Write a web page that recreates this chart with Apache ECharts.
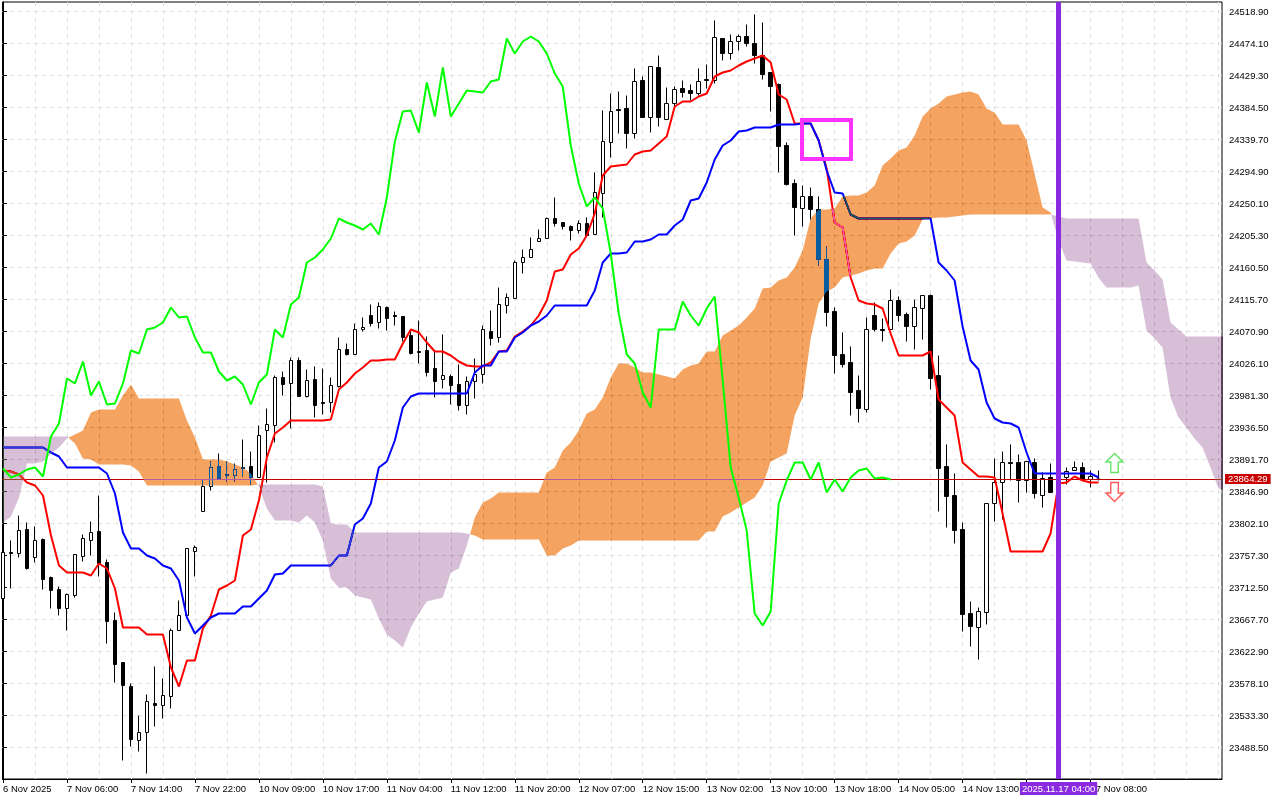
<!DOCTYPE html>
<html><head><meta charset="utf-8">
<style>html,body{margin:0;padding:0;background:#fff}#c{width:1280px;height:800px}</style>
<script src="https://cdn.jsdelivr.net/npm/echarts@6/dist/echarts.min.js"></script>
</head><body><div id="c"></div>
<script>
const opens=[23697.1,23761.5,23760.1,23793.7,23754.5,23779.7,23726.5,23709.7,23683.1,23701.3,
23755.9,23778.3,23790.9,23747.5,23666.3,23607.5,23573.9,23498.3,23509.5,23550.1,
23547.3,23559.9,23652.3,23673.3,23762.9,23818.9,23853.9,23881.9,23870.7,23869.3,
23880.5,23881.9,23866.5,23932.3,23939.3,24006.5,23998.1,24030.3,23979.9,24003.7,
23971.5,23971.5,23993.9,24045.7,24038.7,24073.7,24093.3,24083.5,24104.5,24093.3,
24091.9,24065.3,24042.9,24044.3,24019.1,24003.7,24007.9,23996.7,23967.3,24000.9,
24010.7,24070.9,24062.5,24107.3,24117.1,24167.5,24174.5,24196.9,24201.1,24229.1,
24223.5,24217.9,24212.3,24222.1,24206.7,24264.1,24335.5,24381.7,24383.1,24348.1,
24422.3,24370.5,24440.5,24367.7,24390.1,24411.1,24408.3,24404.1,24423.7,24422.3,
24481.1,24460.1,24476.9,24483.9,24474.1,24457.3,24433.5,24416.7,24331.3,24278.1,
24243.1,24259.9,24241.7,24171.7,24098.9,24038.7,24027.5,23988.3,23961.7,24093.3,
24073.7,24073.7,24114.3,24094.7,24077.9,24103.1,24121.3,24009.3,23881.9,23841.3,
23793.7,23676.1,23656.5,23677.5,23830.1,23859.5,23887.5,23887.5,23862.3,23887.5,
23841.3,23866.5,23860.9,23866.5,23876.3,23880.5,23863.7,23863.7];
const closes=[23761.5,23760.1,23792.3,23739.1,23778.3,23723.7,23708.3,23683.1,23702.7,23758.7,
23781.1,23789.5,23746.1,23664.9,23604.7,23575.3,23499.7,23509.5,23552.9,23547.3,
23561.3,23652.3,23673.3,23767.1,23768.5,23853.9,23880.5,23865.1,23869.3,23877.7,
23879.1,23866.5,23925.3,23940.7,24006.5,23996.7,24030.3,23979.9,24002.3,23967.3,
23970.1,23995.3,24045.7,24038.7,24073.7,24076.5,24082.1,24105.9,24089.1,24091.9,
24062.5,24040.1,24041.5,24013.5,24000.9,24009.3,23995.3,23967.3,24000.9,24010.7,
24073.7,24061.1,24108.7,24118.5,24167.5,24174.5,24185.7,24201.1,24229.1,24222.1,
24217.9,24212.3,24222.1,24205.3,24265.5,24336.9,24378.9,24380.3,24348.1,24420.9,
24370.5,24441.9,24370.5,24390.1,24409.7,24405.5,24404.1,24420.9,24422.3,24482.5,
24460.1,24476.9,24483.9,24474.1,24457.3,24430.7,24413.9,24329.9,24276.7,24244.5,
24259.9,24241.7,24171.7,24097.5,24037.3,24024.7,23985.5,23963.1,24073.7,24073.7,
24072.3,24114.3,24093.3,24077.9,24104.5,24121.3,24005.1,23879.1,23839.9,23792.3,
23674.7,23657.9,23678.9,23830.1,23859.5,23887.5,23886.1,23862.3,23888.9,23844.1,
23865.1,23845.5,23872.1,23874.9,23880.5,23863.7,23867.9,23864.29];
const highs=[23761.5,23778.3,23813.3,23803.5,23797.9,23781.1,23727.9,23713.9,23704.1,23758.7,
23786.7,23804.9,23841.3,23751.7,23677.5,23607.5,23578.1,23533.3,23562.7,23601.9,
23585.1,23655.1,23694.3,23767.1,23771.3,23863.7,23888.9,23900.1,23888.9,23886.1,
23919.7,23902.9,23939.3,23963.1,24009.3,24014.9,24034.5,24034.5,24017.7,24021.9,
24019.1,24006.5,24062.5,24054.1,24082.1,24090.5,24108.7,24111.5,24105.9,24098.9,
24091.9,24072.3,24086.3,24063.9,24042.9,24066.7,24010.7,24024.7,24007.9,24033.1,
24079.3,24100.3,24132.5,24124.1,24170.3,24185.7,24202.5,24213.7,24230.5,24258.5,
24223.5,24219.3,24226.3,24230.5,24293.5,24380.3,24404.1,24406.9,24401.3,24439.1,
24427.9,24441.9,24457.3,24412.5,24413.9,24422.3,24416.7,24439.1,24444.7,24506.3,
24481.1,24486.7,24486.7,24500.7,24514.7,24503.5,24433.5,24418.1,24335.5,24283.7,
24275.3,24272.5,24259.9,24189.9,24104.5,24069.5,24049.9,24009.3,24090.5,24111.5,
24089.1,24129.7,24119.9,24097.5,24115.7,24121.3,24122.7,24037.3,23912.7,23872.1,
23803.5,23692.9,23684.5,23830.1,23893.1,23902.9,23912.7,23898.7,23888.9,23893.1,
23873.5,23886.1,23877.7,23880.5,23888.9,23887.5,23876.3,23876.3];
const lows=[23697.1,23711.1,23754.5,23737.7,23747.5,23709.7,23683.1,23673.3,23652.3,23698.5,
23748.9,23757.3,23727.9,23634.1,23579.5,23470.3,23489.9,23482.9,23452.1,23517.9,
23529.1,23543.1,23652.3,23670.5,23727.9,23818.9,23848.3,23865.1,23860.9,23860.9,
23867.9,23856.7,23866.5,23859.5,23915.5,23981.3,23935.1,23979.9,23978.5,23950.5,
23954.7,23957.5,23992.5,24037.3,24038.7,24070.9,24077.9,24075.1,24072.3,24079.3,
24056.9,24038.7,24026.1,24007.9,23978.5,23991.1,23968.7,23960.3,23954.7,23977.1,
23998.1,24051.3,24055.5,24096.1,24117.1,24152.1,24174.5,24196.9,24201.1,24217.9,
24213.7,24198.3,24208.1,24205.3,24206.7,24230.5,24314.5,24348.1,24327.1,24341.1,
24370.5,24349.5,24357.9,24367.7,24384.5,24398.5,24394.3,24401.3,24411.1,24418.1,
24450.3,24451.7,24464.3,24469.9,24446.1,24423.7,24378.9,24293.5,24275.3,24205.3,
24217.9,24227.7,24163.3,24077.9,24012.1,24020.5,23953.3,23943.5,23957.5,24070.9,
24056.9,24073.7,24084.9,24056.9,24045.7,24059.7,23989.7,23818.9,23796.5,23774.1,
23650.9,23629.9,23611.7,23660.7,23804.9,23807.7,23862.3,23831.5,23845.5,23837.1,
23824.5,23845.5,23855.3,23856.7,23876.3,23863.7,23852.5,23862.3];
const tenkan=[23876.3,23874.9,23870.7,23859.5,23855.3,23841.3,23785.3,23743.3,23733.5,23733.5,
23733.5,23729.3,23746.1,23739.1,23711.1,23656.5,23656.5,23656.5,23646.7,23646.7,
23646.7,23600.5,23573.9,23610.3,23610.3,23655.1,23673.3,23709.7,23715.3,23722.3,
23785.3,23793.7,23834.3,23894.5,23928.1,23936.5,23946.3,23946.3,23946.3,23946.3,
23946.3,23947.7,23989.7,23999.5,24012.1,24020.5,24030.3,24030.3,24031.7,24031.7,
24054.1,24073.7,24069.5,24055.5,24042.9,24042.9,24037.3,24028.9,24023.3,24021.9,
24021.9,24027.5,24042.9,24044.3,24063.9,24070.9,24079.3,24093.3,24114.3,24154.9,
24157.7,24178.7,24187.1,24205.3,24236.1,24289.3,24301.9,24303.3,24304.7,24318.7,
24322.9,24324.3,24334.1,24343.9,24385.9,24392.9,24392.9,24399.9,24404.1,24427.9,
24433.5,24436.3,24443.3,24448.9,24453.1,24457.3,24447.5,24402.7,24395.7,24362.1,
24362.1,24362.1,24338.3,24299.1,24223.5,24216.5,24146.5,24114.3,24110.1,24108.7,
24103.1,24068.1,24037.3,24037.3,24037.3,24037.3,24042.9,23975.7,23964.5,23953.3,
23887.5,23877.7,23867.9,23867.9,23866.5,23816.1,23762.9,23762.9,23762.9,23762.9,
23762.9,23788.1,23858.1,23859.5,23867.9,23862.3,23859.5,23859.5];
const kijun=[23908.5,23908.5,23908.5,23908.5,23908.5,23908.5,23901.5,23895.9,23880.5,23880.5,
23880.5,23880.5,23880.5,23872.1,23844.1,23789.5,23767.1,23767.1,23757.3,23753.1,
23743.3,23739.1,23722.3,23670.5,23648.1,23659.3,23670.5,23676.1,23676.1,23676.1,
23685.9,23685.9,23697.1,23708.3,23730.7,23732.1,23743.3,23743.3,23743.3,23743.3,
23743.3,23743.3,23757.3,23757.3,23800.7,23809.1,23830.1,23880.5,23888.9,23918.3,
23964.5,23979.9,23984.1,23984.1,23984.1,23984.1,23984.1,23984.1,23984.1,24013.5,
24023.3,24023.3,24042.9,24042.9,24062.5,24069.5,24079.3,24084.9,24093.3,24107.3,
24107.3,24107.3,24107.3,24107.3,24128.3,24167.5,24180.1,24180.1,24181.5,24196.9,
24196.9,24199.7,24206.7,24206.7,24219.3,24227.7,24254.3,24257.1,24279.5,24311.7,
24331.3,24338.3,24350.9,24352.3,24356.5,24356.5,24356.5,24360.7,24360.7,24360.7,
24362.1,24362.1,24338.3,24296.3,24265.5,24264.1,24234.7,24229.1,24229.1,24229.1,
24229.1,24229.1,24229.1,24229.1,24229.1,24229.1,24229.1,24167.5,24156.3,24142.3,
24077.9,24030.3,24017.7,23971.5,23949.1,23943.5,23942.1,23936.5,23901.5,23872.1,
23872.1,23872.1,23872.1,23872.1,23872.1,23872.1,23872.1,23866.5];
const chikou=[23879.1,23866.5,23870.7,23877.7,23880.5,23867.9,23923.9,23942.1,24005.1,23998.1,
24028.9,23981.3,24000.9,23968.7,23970.1,23998.1,24044.3,24040.1,24073.7,24076.5,
24083.5,24104.5,24090.5,24091.9,24062.5,24041.5,24041.5,24014.9,24002.3,24007.9,
23996.7,23968.7,23999.5,24010.7,24073.7,24062.5,24108.7,24118.5,24167.5,24174.5,
24185.7,24201.1,24229.1,24223.5,24219.3,24213.7,24222.1,24206.7,24258.5,24336.9,
24378.9,24380.3,24349.5,24419.5,24371.9,24440.5,24371.9,24390.1,24408.3,24406.9,
24405.5,24420.9,24423.7,24481.1,24460.1,24476.9,24483.9,24476.9,24460.1,24432.1,
24413.9,24331.3,24278.1,24245.9,24258.5,24243.1,24180.1,24096.1,24038.7,24026.1,
23985.5,23964.5,24073.7,24073.7,24073.7,24112.9,24093.3,24079.3,24103.1,24119.9,
24002.3,23880.5,23838.5,23792.3,23676.1,23659.3,23678.9,23830.1,23862.3,23887.5,
23887.5,23863.7,23887.5,23845.5,23863.7,23846.9,23866.5,23876.3,23879.1,23865.1,
23866.5,23863.7];
const spanA=[23803.5,23811.9,23838.5,23886.1,23886.1,23888.9,23900.1,23908.5,23921.1,23926.7,
23932.3,23957.5,23961.7,23961.7,23961.7,23981.3,23996.7,23977.1,23977.1,23977.1,
23977.1,23977.1,23977.1,23946.3,23922.5,23891.7,23891.7,23891.7,23888.9,23884.7,
23880.5,23872.1,23853.9,23823.1,23806.3,23806.3,23806.3,23803.5,23813.3,23803.5,
23778.3,23725.1,23712.5,23712.5,23701.3,23698.5,23695.7,23669.1,23646.7,23638.3,
23628.5,23656.5,23676.1,23692.9,23695.7,23698.5,23733.5,23739.1,23771.3,23810.5,
23831.5,23837.1,23845.5,23845.5,23845.5,23845.5,23845.5,23845.5,23873.5,23880.5,
23904.3,23915.5,23932.3,23956.1,23961.7,23978.5,24006.5,24026.1,24026.1,24020.5,
24013.5,24013.5,24010.7,24007.9,24005.1,24017.7,24023.3,24026.1,24042.9,24042.9,
24065.3,24072.3,24079.3,24090.5,24103.1,24131.1,24132.5,24142.3,24146.5,24160.5,
24184.3,24229.1,24241.7,24241.7,24243.1,24259.9,24261.3,24261.3,24265.5,24275.3,
24303.3,24313.1,24324.3,24328.5,24345.3,24371.9,24383.1,24390.1,24399.9,24402.7,
24405.5,24406.9,24402.7,24383.1,24377.5,24360.7,24360.7,24360.7,24338.3,24292.1,
24244.5,24237.5,24198.3,24170.3,24168.9,24167.5,24166.1,24146.5,24132.5,24132.5,
24132.5,24132.5,24135.3,24072.3,24061.1,24048.5,23978.5,23950.5,23936.5,23921.1,
23908.5,23880.5,23851.1,23848.3];
const spanB=[23923.9,23923.9,23923.9,23923.9,23923.9,23923.9,23923.9,23923.9,23923.9,23914.1,
23893.1,23891.7,23884.7,23884.7,23884.7,23884.7,23883.3,23874.9,23855.3,23855.3,
23855.3,23855.3,23855.3,23855.3,23855.3,23855.3,23855.3,23855.3,23855.3,23855.3,
23855.3,23855.3,23856.7,23856.7,23856.7,23856.7,23856.7,23856.7,23856.7,23856.7,
23853.9,23802.1,23800.7,23800.7,23789.5,23789.5,23789.5,23789.5,23789.5,23789.5,
23789.5,23789.5,23789.5,23789.5,23789.5,23789.5,23789.5,23789.5,23788.1,23785.3,
23779.7,23779.7,23779.7,23779.7,23779.7,23779.7,23779.7,23779.7,23757.3,23757.3,
23767.1,23771.3,23778.3,23778.3,23778.3,23778.3,23778.3,23778.3,23778.3,23778.3,
23778.3,23778.3,23778.3,23778.3,23778.3,23778.3,23778.3,23778.3,23790.9,23790.9,
23811.9,23817.5,23824.5,23831.5,23838.5,23855.3,23888.9,23894.5,23900.1,23953.3,
23978.5,24061.1,24110.1,24126.9,24132.5,24146.5,24149.3,24152.1,24156.3,24159.1,
24159.1,24180.1,24194.1,24196.9,24205.3,24227.7,24229.1,24230.5,24230.5,24231.9,
24233.3,24234.7,24234.7,24234.7,24234.7,24234.7,24234.7,24234.7,24234.7,24234.7,
24234.7,24234.7,24231.9,24229.1,24229.1,24229.1,24229.1,24229.1,24229.1,24229.1,
24229.1,24229.1,24229.1,24167.5,24156.3,24143.7,24083.5,24073.7,24063.9,24063.9,
24063.9,24063.9,24063.9,24063.9];
const priceTicks=[24518.9,24474.1,24429.3,24384.5,24339.7,24294.9,24250.1,24205.3,24160.5,24115.7,24070.9,24026.1,
23981.3,23936.5,23891.7,23846.9,23802.1,23757.3,23712.5,23667.7,23622.9,23578.1,23533.3,23488.5];
const timeLabels=['6 Nov 2025','7 Nov 06:00','7 Nov 14:00','7 Nov 22:00','10 Nov 09:00','10 Nov 17:00','11 Nov 04:00','11 Nov 12:00',
'11 Nov 20:00','12 Nov 07:00','12 Nov 15:00','13 Nov 02:00','13 Nov 10:00','13 Nov 18:00','14 Nov 05:00','14 Nov 13:00','17 Nov 00:00','17 Nov 08:00'];
const lastPrice=23864.29;
const markerBar=132, markerLabel='2025.11.17 04:00';
const boxRange=[99.94,24366.3,106.06,24311.7];
const upArrow=[139,23886.8], downArrow=[139,23846.2];

const xMin=-0.0625,xMax=152.4375;
const pairs=a=>a.map((v,i)=>[i,v]);
const labelBars=timeLabels.map((_,i)=>i*8);
const gridBars=[];for(let i=0;i<=152;i+=4)gridBars.push(i);
const candleRows=opens.map((o,i)=>[i,o,closes[i],lows[i],highs[i]]);

function cloudSegments(){
  const segs=[];let cur=null,pd=0;
  for(let i=0;i<spanA.length;i++){
    const d=spanA[i]-spanB[i];
    if(cur&&(d>0)!==(pd>0)){
      const t=pd/(pd-d),c=[i-1+t,spanA[i-1]+t*(spanA[i]-spanA[i-1])];
      cur.a.push(c);segs.push(cur);cur={bull:d>0,a:[c],b:[]};
    }
    if(!cur)cur={bull:d>0,a:[],b:[]};
    cur.a.push([i,spanA[i]]);cur.b.push([i,spanB[i]]);
    pd=d;
  }
  segs.push(cur);return segs;
}
const segments=cloudSegments();
const font='"Liberation Sans",Arial,sans-serif';
const chart=echarts.init(document.getElementById('c'),null,{renderer:'canvas'});
chart.setOption({
  animation:false,backgroundColor:'#fff',
  grid:{left:2,top:2,width:1220,height:777,show:true,borderColor:'#000',borderWidth:1,backgroundColor:'transparent',containLabel:false},
  tooltip:{show:false},
  xAxis:[{type:'value',min:xMin,max:xMax,position:'bottom',
    axisLine:{show:true,lineStyle:{color:'#000'}},
    axisTick:{show:true,length:4,lineStyle:{color:'#000'},customValues:labelBars},
    splitLine:{show:false},
    axisLabel:{show:true,customValues:labelBars,color:'#000',fontFamily:font,fontSize:9.5,align:'left',margin:5,
      formatter:v=>timeLabels[Math.round(v/8)]}},
   {type:'value',min:xMin,max:xMax,position:'bottom',
    axisLine:{show:false},
    axisTick:{show:false,customValues:gridBars},
    axisLabel:{show:false},
    splitLine:{show:true,lineStyle:{color:'#e0e0e0',type:[4,4],width:1}}}],
  yAxis:{type:'value',position:'right',min:23444.4,max:24532.2,
    axisLine:{show:true,lineStyle:{color:'#000'}},
    axisTick:{show:true,length:4,lineStyle:{color:'#000'},customValues:priceTicks},
    splitLine:{show:true,lineStyle:{color:'#e0e0e0',type:[4,4],width:1}},
    axisLabel:{show:true,customValues:priceTicks.concat([lastPrice]),color:'#000',fontFamily:font,fontSize:9.5,margin:3,align:'left',
      formatter:v=>Math.abs(v-lastPrice)<0.001?'{p|'+lastPrice.toFixed(2)+'}':'{n|'+v.toFixed(2)+'}',
      rich:{n:{color:'#000',fontFamily:font,fontSize:9.5,lineHeight:11,padding:[2,0,0,4]},
            p:{color:'#fff',backgroundColor:'#c80000',fontFamily:font,fontSize:9.5,lineHeight:11,padding:[0,3,0,3]}}}},
  series:[
   {name:'Price',type:'candlestick',z:2,barWidth:4,data:candleRows,silent:true,progressive:0,clip:true,
    encode:{x:0,y:[1,2,3,4]},
    itemStyle:{color:'#fff',color0:'#000',borderColor:'#000',borderColor0:'#000',borderWidth:1}},
   {name:'Tenkan',type:'line',z:3,data:pairs(tenkan),showSymbol:false,symbol:'none',silent:true,lineStyle:{color:'#ff0000',width:2}},
   {name:'Kijun',type:'line',z:3,data:pairs(kijun),showSymbol:false,symbol:'none',silent:true,lineStyle:{color:'#0000ff',width:2}},
   {name:'Last',type:'custom',z:3,silent:true,coordinateSystem:'cartesian2d',data:[[xMin,lastPrice,xMax]],
    renderItem(p,api){
      const a=api.coord([api.value(0),api.value(1)]),b=api.coord([api.value(2),api.value(1)]),y=Math.floor(a[1])+0.5;
      return {type:'line',shape:{x1:a[0],y1:y,x2:b[0],y2:y},style:{stroke:'#c00000',lineWidth:1}};
    }},
   {name:'Cloud',type:'custom',z:4,clip:true,silent:true,blendMode:'difference',coordinateSystem:'cartesian2d',
    data:segments.map((s,i)=>[i,s.a[0][1]]),
    renderItem(p,api){
      const s=segments[p.dataIndex];
      const pts=s.a.concat(s.b.slice().reverse()).map(q=>api.coord(q));
      return {type:'polygon',shape:{points:pts},style:{fill:s.bull?'#0B5B9F':'#274027',stroke:null}};
    }},
   {name:'Chikou',type:'line',z:5,data:pairs(chikou),showSymbol:false,symbol:'none',silent:true,lineStyle:{color:'#00ff00',width:2},
    markLine:{z:8,silent:true,symbol:'none',animation:false,
      lineStyle:{color:'#8A2BE2',width:5,type:'solid'},
      label:{show:true,position:'start',distance:3,formatter:markerLabel,color:'#fff',backgroundColor:'#8A2BE2',fontFamily:font,fontSize:9.5,padding:[2,2,1,2]},
      data:[{xAxis:markerBar}]}},
   {name:'Box',type:'custom',z:9,silent:true,coordinateSystem:'cartesian2d',data:[boxRange],
    renderItem(p,api){
      const a=api.coord([api.value(0),api.value(1)]),b=api.coord([api.value(2),api.value(3)]);
      const x0=Math.round(a[0]),y0=Math.floor(a[1]),x1=Math.round(b[0]),y1=Math.floor(b[1]);
      return {type:'rect',shape:{x:x0,y:y0,width:x1-x0,height:y1-y0},style:{fill:'none',stroke:'#ff33ff',lineWidth:4}};
    }},
   {name:'Up',type:'scatter',z:9,silent:true,data:[upArrow],symbol:'path://M9 0L18 9L13 9L13 20L5 20L5 9L0 9Z',symbolSize:[17,19],
    itemStyle:{color:'#fff',borderColor:'#44dd44',borderWidth:1.5}},
   {name:'Down',type:'scatter',z:9,silent:true,data:[downArrow],symbol:'path://M5 0L13 0L13 11L18 11L9 20L0 11L5 11Z',symbolSize:[17,19],
    itemStyle:{color:'#fff',borderColor:'#ff3333',borderWidth:1.5}}
  ]
});
</script></body></html>
